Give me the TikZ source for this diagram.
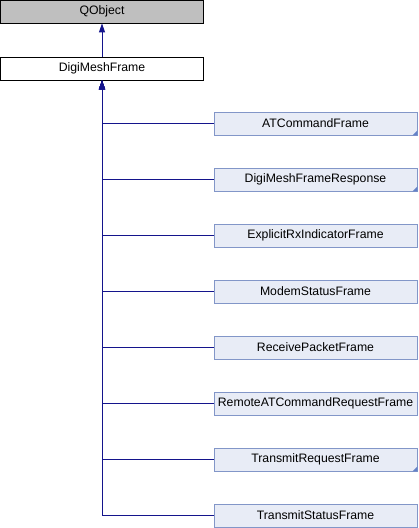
\documentclass[tikz,border=0pt]{standalone}
\usepackage{fontspec}
\setmainfont{Liberation Sans}
\usetikzlibrary{positioning}
\usetikzlibrary{calc,arrows.meta}
\definecolor{edgeblue}{RGB}{20,20,140}
\definecolor{boxfill}{RGB}{232,236,246}
\definecolor{boxline}{RGB}{130,150,200}
\definecolor{foldblue}{RGB}{100,130,200}
\definecolor{basegray}{RGB}{191,191,191}
\newcommand\foldcorner[1]{
	\fill[foldblue] (#1.south east) -- ($(#1.south east)+(-5bp,0)$)
	    -- ($(#1.south east)+(0,5bp)$) -- cycle;
 }

\begin{document}
\begin{tikzpicture}[x=1bp,y=-1bp,
	box/.style={draw,line width=0.8bp,minimum width=203bp,minimum height=23bp,inner sep=0pt,font=\fontsize{12.3}{14}\selectfont},
	cls/.style={box,draw=boxline,fill=boxfill},
	inh/.style={draw=edgeblue,line width=1bp,-{Triangle[length=9bp,width=6bp]}}]
		\useasboundingbox (0,0) rectangle (418,528);
		\node[box,fill=basegray] (qobject) at (102,11.5) {QObject};
		\node[box,fill=white] (digi) at (102,68.5) {DigiMeshFrame};
		\draw[inh] (digi.north) -- (qobject.south);
		\foreach \name/\fold [count=\i] in {ATCommandFrame/1,DigiMeshFrameResponse/1,
		    ExplicitRxIndicatorFrame/0,ModemStatusFrame/0,ReceivePacketFrame/0,
		    RemoteATCommandRequestFrame/0,TransmitRequestFrame/1,TransmitStatusFrame/0}{
			\node[cls] (c\i) at (315.5,{67.5+56*\i}) {\name};
			\ifnum\fold=1 \foldcorner{c\i}\fi
			\draw[inh] (c\i.west) -| (digi.south);
		}
	\end{tikzpicture}
\end{document}
